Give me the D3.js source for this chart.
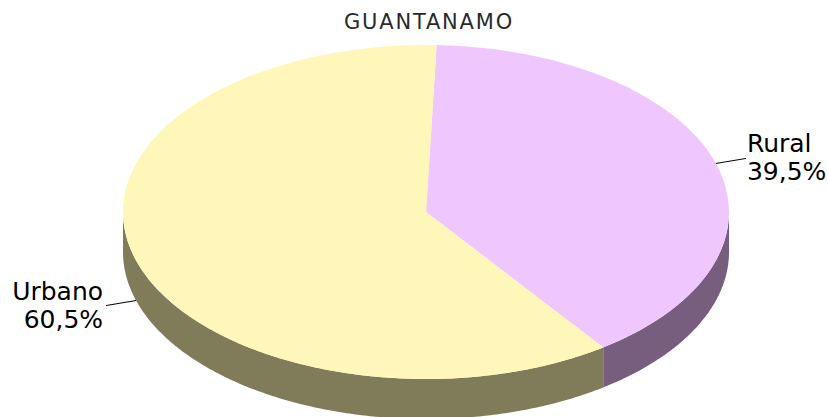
<!DOCTYPE html>
<html>
<head>
<meta charset="utf-8">
<script src="https://cdn.jsdelivr.net/npm/d3@7"></script>
<style>
  html, body { margin: 0; padding: 0; background: #fff; }
  svg { display: block; }
</style>
</head>
<body>
<svg id="chart" width="828" height="417"></svg>
<script>
// データ
const title = 'GUANTANAMO';
const categories = ['Rural', 'Urbano'];
const values = [39.5, 60.5];
const valueLabels = ['39,5%', '60,5%'];
const topColors = ['#F0C6FF', '#FFF7B9'];
const sideColors = ['#775E7F', '#807B59'];

const width = 828;
const height = 417;
const cx = 426, cy = 212;  // 楕円の中心
const rx = 303, ry = 167;  // 上面の半径
const depth = 40;          // 側面の厚み
const start = 0.035;       // 真上から少し右にずらして開始

const svg = d3.select('#chart');

const pie = d3.pie()
  .sort(null)
  .startAngle(start)
  .endAngle(start + 2 * Math.PI);
const arcs = pie(values);

// 角度 -> 楕円上の点（0 が真上、時計回り）
const pt = (a, dy = 0) => [cx + rx * Math.sin(a), cy - ry * Math.cos(a) + dy];

// 側面：手前側（π/2〜3π/2）だけ見える
const sideG = svg.append('g');
arcs.forEach((d, i) => {
  const a0 = Math.max(d.startAngle, Math.PI / 2);
  const a1 = Math.min(d.endAngle, 3 * Math.PI / 2);
  if (a1 <= a0) return;
  const steps = d3.range(a0, a1, 0.01).concat([a1]);
  const top = steps.map(a => pt(a));
  const bottom = steps.slice().reverse().map(a => pt(a, depth));
  sideG.append('path')
    .attr('d', d3.line()(top.concat(bottom)) + 'Z')
    .attr('fill', sideColors[i]);
});

// 上面：円弧を縦に潰して楕円にする
const arc = d3.arc().innerRadius(0).outerRadius(rx);
svg.append('g')
  .attr('transform', `translate(${cx},${cy}) scale(1,${ry / rx})`)
  .selectAll('path')
  .data(arcs)
  .join('path')
  .attr('d', arc)
  .attr('fill', (d, i) => topColors[i]);

// ラベルと引き出し線
const labelG = svg.append('g')
  .attr('font-family', '"DejaVu Sans", Verdana, sans-serif')
  .attr('font-size', 25)
  .attr('fill', '#000');

arcs.forEach((d, i) => {
  const mid = (d.startAngle + d.endAngle) / 2;
  const right = Math.sin(mid) > 0;
  const front = Math.cos(mid) < 0;
  const [ax, ay] = pt(mid, front ? depth : 0);
  const ex = ax + (right ? 30 : -30);
  const ey = ay + (right ? -5 : 5);
  labelG.append('line')
    .attr('x1', ax).attr('y1', ay)
    .attr('x2', ex).attr('y2', ey)
    .attr('stroke', '#000')
    .attr('stroke-width', 1);
  const tx = ex + (right ? 1 : -3);
  const text = labelG.append('text')
    .attr('text-anchor', right ? 'start' : 'end');
  text.append('tspan').attr('x', tx).attr('y', ey - 6).text(categories[i]);
  text.append('tspan').attr('x', tx).attr('y', ey + 22).text(valueLabels[i]);
});

// タイトル
svg.append('text')
  .attr('x', 429)
  .attr('y', 29)
  .attr('text-anchor', 'middle')
  .attr('font-family', '"DejaVu Sans", Verdana, sans-serif')
  .attr('font-size', 21)
  .attr('letter-spacing', 1.8)
  .attr('fill', '#2a2a2a')
  .text(title);
</script>
</body>
</html>
